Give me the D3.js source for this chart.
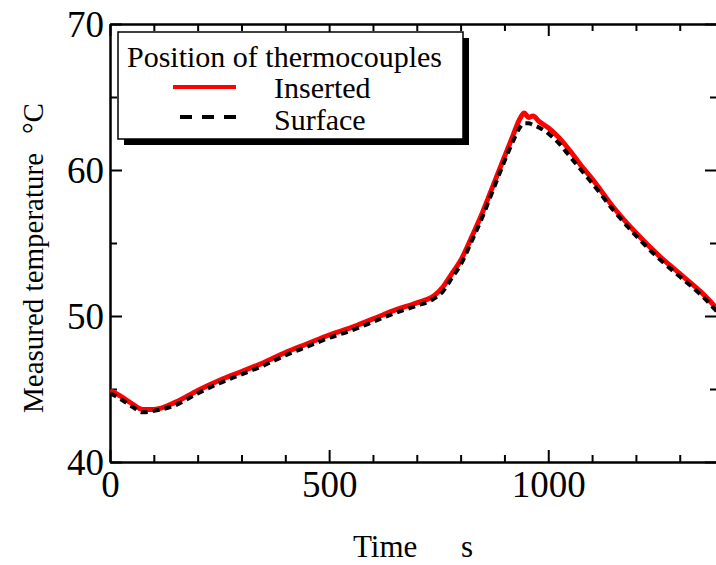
<!DOCTYPE html>
<html>
<head>
<meta charset="utf-8">
<style>
    body { margin: 0; background: #fff; }
    text { font-family: "Liberation Serif", "Times New Roman", serif; fill: #000; }
    .axis path, .axis line { stroke: #000; stroke-width: 2; }
</style>
<script src="https://d3js.org/d3.v7.min.js"></script>
</head>
<body>
<svg width="716" height="565"></svg>
<script>
// time in s
var times = [0, 25, 50, 75, 100, 150, 200, 250, 300, 350, 400, 450, 500, 550, 600, 650, 700, 740, 760, 780,
             800, 825, 850, 875, 900, 920, 935, 945, 955, 965, 980, 1000, 1025, 1050, 1075, 1100, 1150, 1200,
             1250, 1300, 1350, 1385];
// thermocouple inserted
var inserted = [44.9, 44.5, 44.0, 43.6, 43.6, 44.1, 44.9, 45.6, 46.2, 46.8, 47.5, 48.1, 48.7, 49.2, 49.8, 50.4,
                50.9, 51.4, 52.0, 52.9, 53.8, 55.4, 57.1, 59.0, 60.9, 62.4, 63.5, 63.9, 63.6, 63.7, 63.3, 62.9,
                62.2, 61.3, 60.3, 59.4, 57.4, 55.7, 54.2, 52.9, 51.6, 50.5];
// thermocouple on surface
var surface = [44.7, 44.3, 43.8, 43.4, 43.5, 43.9, 44.7, 45.4, 46.0, 46.6, 47.3, 47.9, 48.5, 49.0, 49.6, 50.2,
               50.7, 51.2, 51.7, 52.6, 53.5, 55.1, 56.8, 58.7, 60.6, 62.0, 62.9, 63.2, 63.2, 63.1, 62.9, 62.5,
               61.8, 60.9, 60.0, 59.1, 57.2, 55.5, 54.0, 52.7, 51.4, 50.3];
var xMajor = [0, 500, 1000];
var xMinor = [100, 200, 300, 400, 600, 700, 800, 900, 1100, 1200, 1300];
var yMajor = [40, 50, 60, 70];
var yMinor = [45, 55, 65];
var seriesNames = ["Inserted", "Surface"];

var svg = d3.select("svg");
var pLeft = 110, pRight = 717, pTop = 24, pBottom = 462;

var x = d3.scaleLinear().domain([0, 1385]).range([pLeft, pRight]);
var y = d3.scaleLinear().domain([40, 70]).range([pBottom, pTop]);

svg.append("defs").append("clipPath").attr("id", "plot")
   .append("rect").attr("x", pLeft).attr("y", pTop).attr("width", pRight - pLeft).attr("height", pBottom - pTop);

// axes, ticks pointing inwards
function addAxis(axis, tx, ty) {
    return svg.append("g").attr("class", "axis")
              .attr("transform", "translate(" + tx + "," + ty + ")")
              .call(axis);
}
var bx = addAxis(d3.axisBottom(x).tickValues(xMajor).tickSize(-12).tickSizeOuter(0).tickFormat(d3.format("d")), 0, pBottom);
bx.selectAll("text").attr("y", 35).attr("dy", 0).style("font-size", "37px");
addAxis(d3.axisBottom(x).tickValues(xMinor).tickSize(-7).tickSizeOuter(0).tickFormat(""), 0, pBottom);
addAxis(d3.axisTop(x).tickValues(xMajor).tickSize(-12).tickSizeOuter(0).tickFormat(""), 0, pTop);
addAxis(d3.axisTop(x).tickValues(xMinor).tickSize(-7).tickSizeOuter(0).tickFormat(""), 0, pTop);

var ly = addAxis(d3.axisLeft(y).tickValues(yMajor).tickSize(-12).tickSizeOuter(0), pLeft, 0);
ly.selectAll("text").attr("x", -6).attr("dy", "0.35em").style("font-size", "37px");
addAxis(d3.axisLeft(y).tickValues(yMinor).tickSize(-7).tickSizeOuter(0).tickFormat(""), pLeft, 0);
addAxis(d3.axisRight(y).tickValues(yMajor).tickSize(-12).tickSizeOuter(0).tickFormat(""), pRight, 0);
addAxis(d3.axisRight(y).tickValues(yMinor).tickSize(-7).tickSizeOuter(0).tickFormat(""), pRight, 0);

// lines
var data1 = times.map(function(t, i) { return [t, inserted[i]]; });
var data2 = times.map(function(t, i) { return [t, surface[i]]; });
var line = d3.line().x(function(d) { return x(d[0]); }).y(function(d) { return y(d[1]); })
             .curve(d3.curveMonotoneX);
var g = svg.append("g").attr("clip-path", "url(#plot)");
g.append("path").datum(data1).attr("d", line)
 .attr("fill", "none").attr("stroke", "#ff0000").attr("stroke-width", 5);
g.append("path").datum(data2).attr("d", line)
 .attr("fill", "none").attr("stroke", "#000").attr("stroke-width", 4).attr("stroke-dasharray", "7,5");

// legend
var lg = svg.append("g");
lg.append("rect").attr("x", 124).attr("y", 38).attr("width", 345).attr("height", 107).attr("fill", "#000");
lg.append("rect").attr("x", 118).attr("y", 32).attr("width", 345).attr("height", 107)
  .attr("fill", "#fff").attr("stroke", "#000").attr("stroke-width", 1.5);
lg.append("text").attr("x", 127).attr("y", 67).style("font-size", "30px").text("Position of thermocouples");
lg.append("line").attr("x1", 173).attr("x2", 236).attr("y1", 87).attr("y2", 87)
  .attr("stroke", "#ff0000").attr("stroke-width", 4);
lg.append("line").attr("x1", 180).attr("x2", 236).attr("y1", 117).attr("y2", 117)
  .attr("stroke", "#000").attr("stroke-width", 4).attr("stroke-dasharray", "12,10");
lg.append("text").attr("x", 274).attr("y", 98).style("font-size", "30px").text(seriesNames[0]);
lg.append("text").attr("x", 274).attr("y", 130).style("font-size", "30px").text(seriesNames[1]);

// axis titles
var xt = svg.append("text").attr("y", 557).style("font-size", "31px");
xt.append("tspan").attr("x", 353).text("Time");
xt.append("tspan").attr("x", 461).text("s");

var yt = svg.append("text")
   .attr("transform", "translate(43,413) rotate(-90)")
   .style("font-size", "29px");
yt.append("tspan").attr("x", 0).text("Measured temperature");
yt.append("tspan").attr("x", 279).text("\u00b0C");
</script>
</body>
</html>
